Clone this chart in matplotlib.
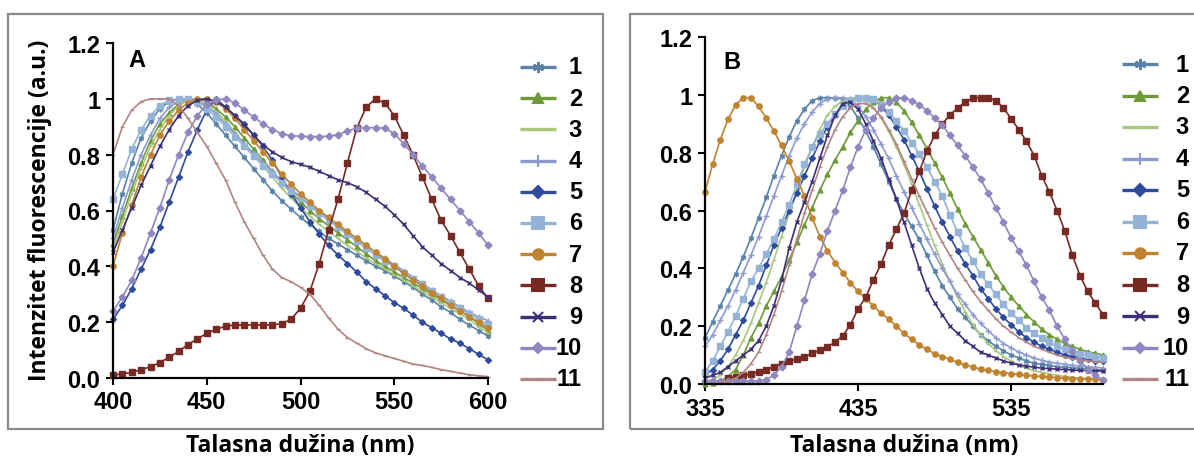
import matplotlib
matplotlib.use("Agg")
import matplotlib.pyplot as plt
import numpy as np
from matplotlib.lines import Line2D
from matplotlib.patches import Rectangle

W, H = 1194, 460

# ---- data ---------------------------------------------------------------
wl_a = np.arange(400, 601, 5)   # panel A wavelengths (nm)
wl_b = np.arange(335, 596, 5)   # panel B wavelengths (nm)
labels = ["1", "2", "3", "4", "5", "6", "7", "8", "9", "10", "11"]

# panel A, rows: 400-440 | 445-490 | 495-540 | 545-590 | 595-600
a1 = [0.53, 0.66, 0.77, 0.86, 0.92, 0.965, 0.99, 1.0, 1.0,
      0.98, 0.95, 0.91, 0.87, 0.83, 0.79, 0.75, 0.71, 0.67, 0.635,
      0.605, 0.575, 0.55, 0.525, 0.5, 0.48, 0.46, 0.44, 0.42, 0.40,
      0.385, 0.365, 0.345, 0.325, 0.30, 0.28, 0.255, 0.235, 0.21, 0.19,
      0.17, 0.15]
a2 = [0.48, 0.58, 0.68, 0.77, 0.85, 0.91, 0.95, 0.98, 0.995,
      1.0, 0.99, 0.965, 0.935, 0.90, 0.86, 0.82, 0.78, 0.74, 0.70,
      0.665, 0.63, 0.60, 0.57, 0.545, 0.52, 0.495, 0.47, 0.445, 0.42,
      0.40, 0.38, 0.36, 0.34, 0.32, 0.30, 0.28, 0.26, 0.24, 0.22,
      0.195, 0.17]
a3 = [0.46, 0.56, 0.66, 0.75, 0.83, 0.89, 0.94, 0.975, 0.995,
      1.0, 0.985, 0.955, 0.92, 0.88, 0.84, 0.80, 0.76, 0.72, 0.68,
      0.645, 0.61, 0.58, 0.55, 0.525, 0.50, 0.475, 0.455, 0.43, 0.41,
      0.39, 0.37, 0.35, 0.33, 0.31, 0.29, 0.27, 0.25, 0.23, 0.21,
      0.185, 0.16]
a4 = [0.50, 0.61, 0.71, 0.80, 0.87, 0.93, 0.97, 0.99, 1.0,
      0.995, 0.975, 0.945, 0.91, 0.875, 0.84, 0.805, 0.77, 0.74, 0.705,
      0.675, 0.65, 0.62, 0.595, 0.57, 0.545, 0.52, 0.50, 0.475, 0.45,
      0.43, 0.405, 0.385, 0.36, 0.34, 0.315, 0.295, 0.275, 0.255, 0.235,
      0.22, 0.205]
a5 = [0.21, 0.26, 0.32, 0.39, 0.46, 0.54, 0.63, 0.72, 0.81,
      0.89, 0.96, 1.0, 0.97, 0.94, 0.91, 0.87, 0.83, 0.78, 0.72,
      0.66, 0.61, 0.56, 0.515, 0.475, 0.44, 0.41, 0.38, 0.345, 0.32,
      0.295, 0.27, 0.25, 0.225, 0.20, 0.18, 0.16, 0.14, 0.125, 0.105,
      0.085, 0.065]
a6 = [0.64, 0.73, 0.82, 0.89, 0.94, 0.975, 0.995, 1.0, 1.0,
      0.99, 0.965, 0.935, 0.90, 0.865, 0.83, 0.795, 0.76, 0.73, 0.70,
      0.67, 0.645, 0.615, 0.59, 0.565, 0.54, 0.515, 0.49, 0.465, 0.44,
      0.42, 0.40, 0.375, 0.355, 0.335, 0.31, 0.29, 0.27, 0.25, 0.23,
      0.21, 0.19]
a7 = [0.40, 0.52, 0.62, 0.72, 0.80, 0.87, 0.92, 0.96, 0.985,
      1.0, 1.0, 0.99, 0.965, 0.93, 0.89, 0.85, 0.81, 0.77, 0.73,
      0.695, 0.66, 0.63, 0.60, 0.575, 0.55, 0.525, 0.50, 0.475, 0.45,
      0.425, 0.40, 0.375, 0.35, 0.33, 0.305, 0.285, 0.26, 0.24, 0.22,
      0.20, 0.18]
a8 = [0.01, 0.015, 0.02, 0.03, 0.04, 0.055, 0.075, 0.095, 0.12,
      0.14, 0.16, 0.175, 0.185, 0.19, 0.19, 0.19, 0.19, 0.19, 0.195,
      0.21, 0.25, 0.31, 0.41, 0.53, 0.64, 0.77, 0.895, 0.97, 1.0,
      0.985, 0.94, 0.87, 0.80, 0.72, 0.64, 0.565, 0.51, 0.45, 0.39,
      0.33, 0.285]
a9 = [0.45, 0.53, 0.61, 0.69, 0.76, 0.83, 0.89, 0.94, 0.975,
      0.995, 1.0, 0.99, 0.97, 0.94, 0.905, 0.87, 0.835, 0.81, 0.79,
      0.775, 0.765, 0.755, 0.74, 0.725, 0.71, 0.70, 0.685, 0.665, 0.64,
      0.615, 0.585, 0.55, 0.51, 0.47, 0.44, 0.41, 0.385, 0.36, 0.34,
      0.315, 0.29]
a10 = [0.24, 0.29, 0.35, 0.43, 0.52, 0.61, 0.71, 0.80, 0.88,
       0.94, 0.98, 0.995, 1.0, 0.985, 0.96, 0.935, 0.91, 0.89, 0.875,
       0.868, 0.866, 0.865, 0.865, 0.866, 0.872, 0.885, 0.895, 0.897, 0.897,
       0.895, 0.875, 0.84, 0.80, 0.76, 0.72, 0.68, 0.64, 0.60, 0.56,
       0.52, 0.475]
a11 = [0.80, 0.90, 0.96, 0.99, 1.0, 1.0, 1.0, 0.975, 0.93,
       0.88, 0.83, 0.77, 0.71, 0.63, 0.56, 0.50, 0.44, 0.39, 0.36,
       0.345, 0.325, 0.30, 0.26, 0.215, 0.175, 0.145, 0.125, 0.105, 0.09,
       0.08, 0.07, 0.06, 0.05, 0.045, 0.038, 0.03, 0.024, 0.018, 0.012,
       0.008, 0.005]

# panel B, rows: 335-380 | 385-430 | 435-480 | 485-530 | 535-580 | 585-595
b1 = [0.16, 0.215, 0.27, 0.325, 0.38, 0.44, 0.505, 0.575, 0.645, 0.72,
      0.79, 0.855, 0.91, 0.95, 0.98, 0.99, 0.99, 0.99, 0.985, 0.96,
      0.92, 0.875, 0.82, 0.76, 0.70, 0.64, 0.59, 0.545, 0.50, 0.445,
      0.39, 0.34, 0.30, 0.26, 0.23, 0.20, 0.17, 0.15, 0.13, 0.115,
      0.10, 0.09, 0.08, 0.072, 0.068, 0.064, 0.06, 0.058, 0.056, 0.054,
      0.052, 0.05, 0.048]
b2 = [0.0, 0.005, 0.01, 0.025, 0.05, 0.10, 0.16, 0.21, 0.27, 0.32,
      0.37, 0.43, 0.49, 0.55, 0.61, 0.67, 0.725, 0.775, 0.82, 0.87,
      0.91, 0.95, 0.975, 0.99, 0.99, 0.975, 0.945, 0.905, 0.86, 0.815,
      0.765, 0.715, 0.66, 0.605, 0.555, 0.51, 0.465, 0.42, 0.375, 0.335,
      0.30, 0.27, 0.24, 0.215, 0.19, 0.17, 0.155, 0.14, 0.13, 0.12,
      0.112, 0.106, 0.10]
b3 = [0.01, 0.015, 0.03, 0.06, 0.10, 0.15, 0.21, 0.28, 0.35, 0.43,
      0.51, 0.59, 0.67, 0.75, 0.82, 0.88, 0.93, 0.96, 0.98, 0.99,
      0.99, 0.98, 0.955, 0.92, 0.875, 0.82, 0.76, 0.69, 0.62, 0.55,
      0.48, 0.415, 0.355, 0.30, 0.25, 0.205, 0.17, 0.14, 0.115, 0.095,
      0.08, 0.065, 0.055, 0.046, 0.04, 0.035, 0.03, 0.026, 0.023, 0.02,
      0.018, 0.017, 0.016]
b4 = [0.13, 0.17, 0.22, 0.27, 0.325, 0.385, 0.445, 0.51, 0.58, 0.65,
      0.72, 0.79, 0.85, 0.90, 0.94, 0.97, 0.985, 0.99, 0.99, 0.985,
      0.96, 0.925, 0.88, 0.83, 0.78, 0.72, 0.665, 0.61, 0.555, 0.50,
      0.45, 0.40, 0.355, 0.31, 0.275, 0.24, 0.21, 0.185, 0.16, 0.14,
      0.125, 0.11, 0.10, 0.09, 0.082, 0.076, 0.072, 0.068, 0.065, 0.062,
      0.06, 0.058, 0.056]
b5 = [0.03, 0.05, 0.08, 0.12, 0.17, 0.22, 0.28, 0.34, 0.41, 0.48,
      0.54, 0.60, 0.66, 0.72, 0.78, 0.84, 0.89, 0.93, 0.96, 0.98,
      0.99, 0.99, 0.985, 0.96, 0.93, 0.89, 0.845, 0.79, 0.735, 0.675,
      0.615, 0.56, 0.51, 0.46, 0.415, 0.375, 0.33, 0.295, 0.26, 0.23,
      0.205, 0.18, 0.16, 0.145, 0.13, 0.12, 0.11, 0.10, 0.095, 0.09,
      0.085, 0.08, 0.078]
b6 = [0.04, 0.08, 0.13, 0.18, 0.235, 0.295, 0.355, 0.40, 0.45, 0.50,
      0.56, 0.62, 0.69, 0.76, 0.82, 0.865, 0.90, 0.935, 0.96, 0.98,
      0.99, 0.99, 0.985, 0.965, 0.94, 0.91, 0.875, 0.835, 0.795, 0.75,
      0.70, 0.65, 0.585, 0.525, 0.47, 0.425, 0.38, 0.345, 0.31, 0.275,
      0.245, 0.22, 0.195, 0.175, 0.16, 0.145, 0.13, 0.12, 0.115, 0.105,
      0.10, 0.095, 0.09]
b7 = [0.665, 0.76, 0.845, 0.915, 0.965, 0.99, 0.99, 0.96, 0.92, 0.875,
      0.825, 0.77, 0.71, 0.65, 0.575, 0.51, 0.46, 0.42, 0.385, 0.35,
      0.32, 0.295, 0.27, 0.245, 0.225, 0.20, 0.175, 0.155, 0.135, 0.12,
      0.105, 0.095, 0.085, 0.075, 0.066, 0.058, 0.052, 0.047, 0.043, 0.039,
      0.036, 0.033, 0.03, 0.028, 0.026, 0.024, 0.022, 0.02, 0.019, 0.018,
      0.017, 0.016, 0.015]
b8 = [np.nan, np.nan, np.nan, 0.02, 0.025, 0.03, 0.035, 0.042, 0.05, 0.06,
      0.07, 0.078, 0.086, 0.095, 0.106, 0.117, 0.128, 0.145, 0.167, 0.205,
      0.26, 0.30, 0.36, 0.415, 0.48, 0.535, 0.59, 0.67, 0.735, 0.805,
      0.86, 0.90, 0.93, 0.955, 0.975, 0.99, 0.99, 0.99, 0.98, 0.955,
      0.917, 0.88, 0.84, 0.79, 0.72, 0.664, 0.60, 0.53, 0.445, 0.375,
      0.32, 0.28, 0.24]
b9 = [0.02, 0.03, 0.04, 0.06, 0.08, 0.10, 0.12, 0.15, 0.20, 0.27,
      0.36, 0.47, 0.56, 0.63, 0.70, 0.78, 0.86, 0.93, 0.97, 0.975,
      0.95, 0.90, 0.84, 0.78, 0.71, 0.64, 0.56, 0.48, 0.40, 0.33,
      0.28, 0.24, 0.20, 0.175, 0.15, 0.13, 0.11, 0.10, 0.09, 0.08,
      0.072, 0.066, 0.062, 0.058, 0.055, 0.053, 0.051, 0.05, 0.048, 0.047,
      0.046, 0.045, 0.045]
b10 = [0.01, 0.01, 0.01, 0.01, 0.01, 0.01, 0.01, 0.01, 0.015, 0.03,
       0.06, 0.11, 0.20, 0.29, 0.38, 0.45, 0.53, 0.60, 0.67, 0.75,
       0.82, 0.88, 0.92, 0.955, 0.975, 0.99, 0.99, 0.98, 0.965, 0.945,
       0.92, 0.895, 0.86, 0.825, 0.79, 0.75, 0.71, 0.66, 0.61, 0.56,
       0.505, 0.46, 0.41, 0.355, 0.30, 0.255, 0.20, 0.155, 0.115, 0.08,
       0.05, 0.03, 0.015]
b11 = [0.0, 0.0, 0.005, 0.01, 0.02, 0.04, 0.07, 0.11, 0.17, 0.24,
       0.32, 0.41, 0.50, 0.59, 0.67, 0.75, 0.82, 0.88, 0.925, 0.955,
       0.97, 0.97, 0.955, 0.925, 0.88, 0.83, 0.77, 0.71, 0.65, 0.595,
       0.54, 0.49, 0.445, 0.40, 0.36, 0.32, 0.285, 0.255, 0.225, 0.20,
       0.18, 0.16, 0.145, 0.13, 0.12, 0.11, 0.10, 0.093, 0.087, 0.083,
       0.08, 0.077, 0.075]

series_a = [a1, a2, a3, a4, a5, a6, a7, a8, a9, a10, a11]
series_b = [b1, b2, b3, b4, b5, b6, b7, b8, b9, b10, b11]

# ---- style --------------------------------------------------------------
colors = ["#5a82a8", "#6f9a3a", "#a9c77e", "#8d9bd1", "#2f4b9b", "#95b3d7",
          "#c0832f", "#772a24", "#3e2f78", "#8e87c0", "#b18583"]
markers = [(6, 2, 0), "^", "_", "+", "D", "s", "o", "s", "x", "D", "_"]
msize = [4, 3.5, 3, 4, 3, 4, 3.8, 4.2, 3.5, 3.5, 3]
leg_msize = [8, 7, 7, 8, 6, 8, 7.5, 8, 7, 5.5, 6]

plt.rcParams["font.family"] = ["Liberation Sans", "DejaVu Sans"]
plt.rcParams["font.weight"] = "bold"

fig = plt.figure(figsize=(W / 100, H / 100), dpi=100)
fig.patch.set_facecolor("white")


def px_box(left, top, right, bottom):
    return [left / W, 1 - bottom / H, (right - left) / W, (bottom - top) / H]


# panel frames
for (l, t, r, b) in [(8, 15, 603, 430), (630, 15, 1210, 430)]:
    fig.add_artist(Rectangle((l / W, 1 - b / H), (r - l) / W, (b - t) / H,
                             transform=fig.transFigure, fill=False,
                             edgecolor="#8a8a8a", linewidth=1.6))

ax_a = fig.add_axes(px_box(113, 44, 488, 379))
ax_b = fig.add_axes(px_box(705, 38, 1103, 385))

for ax, wl, data in [(ax_a, wl_a, series_a), (ax_b, wl_b, series_b)]:
    for vals, col, mk, ms in zip(data, colors, markers, msize):
        ax.plot(wl, vals, color=col, lw=1.2, marker=mk, ms=ms,
                markeredgewidth=1.0, clip_on=False)
    ax.set_ylim(0, 1.2)
    ax.set_yticks([0, 0.2, 0.4, 0.6, 0.8, 1.0, 1.2])
    ax.set_yticklabels(["0.0", "0.2", "0.4", "0.6", "0.8", "1", "1.2"])
    ax.spines["top"].set_visible(False)
    ax.spines["right"].set_visible(False)
    ax.spines["left"].set_linewidth(1.6)
    ax.spines["bottom"].set_linewidth(1.6)
    ax.tick_params(direction="out", length=5, width=1.5, labelsize=17, pad=4)
    ax.patch.set_alpha(0)

ax_a.set_xlim(400, 600)
ax_a.set_xticks([400, 450, 500, 550, 600])
ax_b.set_xlim(335, 595)
ax_b.set_xticks([335, 435, 535])

ax_a.text(0.04, 0.95, "A", transform=ax_a.transAxes, fontsize=17,
          fontweight="bold", va="center", ha="left")
ax_b.text(0.045, 0.93, "B", transform=ax_b.transAxes, fontsize=17,
          fontweight="bold", va="center", ha="left")

label_font = dict(family=["Open Sans", "DejaVu Sans"], fontweight="bold",
                  fontsize=16.5)
fig.text(300 / W, 1 - 446 / H, "Talasna dužina (nm)", ha="center",
         va="center", **label_font)
fig.text(904 / W, 1 - 446 / H, "Talasna dužina (nm)", ha="center",
         va="center", **label_font)
fig.text(40 / W, 1 - 210 / H, "Intenzitet fluorescencije (a.u.)",
         rotation=90, ha="center", va="center", **label_font)


# legends drawn entry by entry (numbers right aligned as in the original)
def draw_legend(x0, x1, xtext, ytop, step):
    for i, lab in enumerate(labels):
        fy = 1 - (ytop + i * step) / H
        fig.add_artist(Line2D([x0 / W, x1 / W], [fy, fy],
                              transform=fig.transFigure, color=colors[i],
                              lw=2.4, solid_capstyle="butt"))
        fig.add_artist(Line2D([(x0 + x1) / 2 / W], [fy],
                              transform=fig.transFigure, color=colors[i],
                              marker=markers[i], ms=leg_msize[i],
                              markeredgewidth=1.5, lw=0))
        fig.text(xtext / W, fy, lab, ha="right", va="center", fontsize=17,
                 fontweight="bold")


draw_legend(520, 556, 582, 68, 31.2)
draw_legend(1122, 1158, 1189, 65, 31.5)

fig.savefig("out.png", dpi=100, facecolor="white")
